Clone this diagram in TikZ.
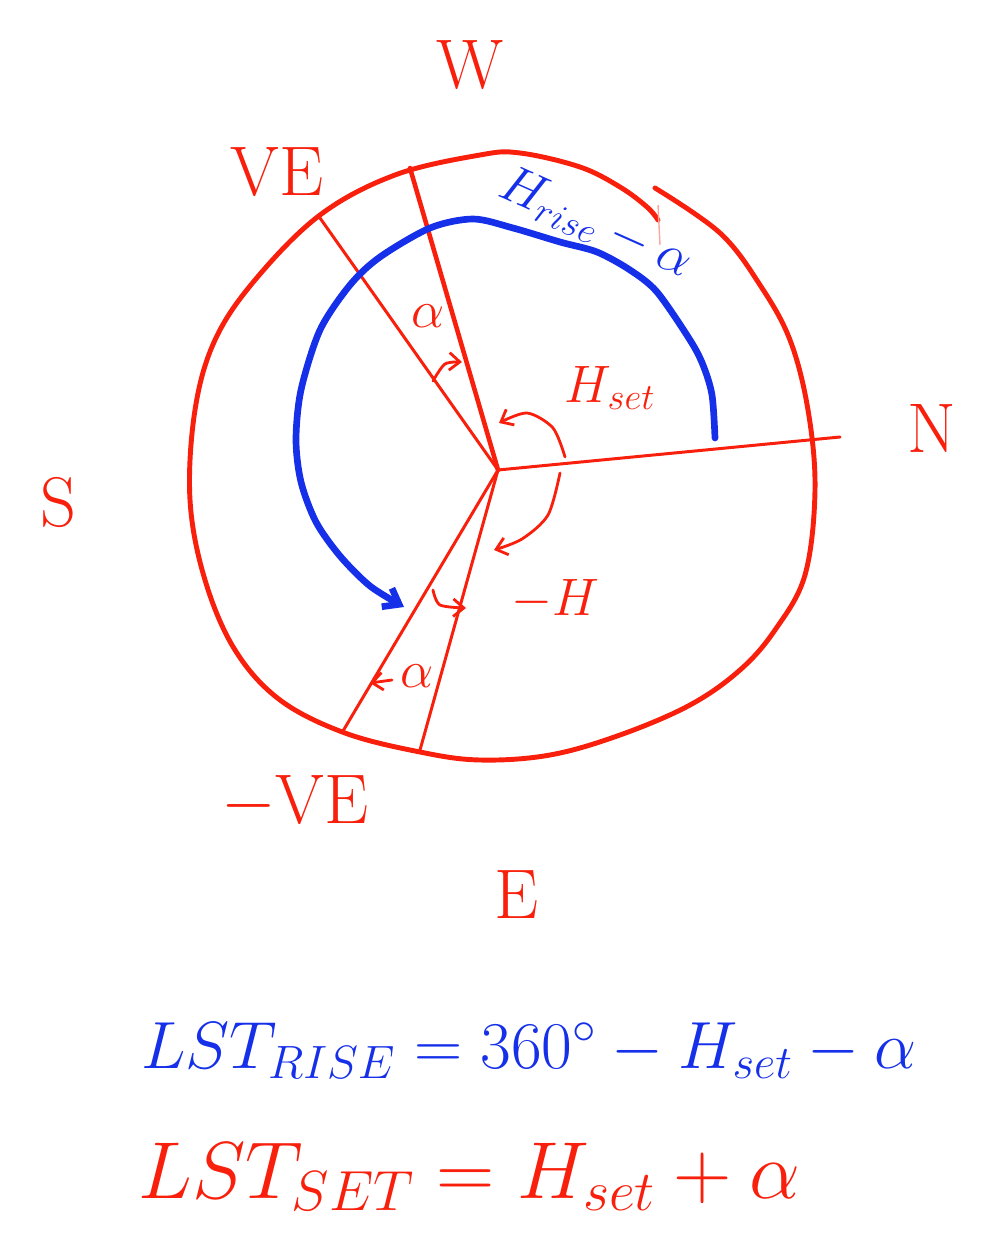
\documentclass[tikz,border=0pt]{standalone}
\usepackage{fix-cm}
\usetikzlibrary{
  arrows.meta,
  positioning,
}
\definecolor{inkred}{HTML}{F8200C}
\definecolor{inkblue}{HTML}{1530E8}

\begin{document}
\begin{tikzpicture}[
    x=0.02cm, y=-0.02cm,
    rim/.style={inkred, line width=2.8pt, line cap=round, line join=round},
    spoke/.style={inkred, line width=1.7pt, line cap=round},
    meridian/.style={inkred, line width=2.6pt, line cap=round},
    bluepen/.style={inkblue, line width=3.8pt, line cap=round},
    anglearrow/.style={inkred, line width=1.6pt, line cap=round, -{Straight Barb[length=6pt, width=10pt]}},
    compass/.style={inkred, font=\fontsize{40}{44}\selectfont},
    lbl/.style={font=\fontsize{30}{34}\selectfont},
    eqn/.style={font=\fontsize{38}{46}\selectfont, anchor=base west},
  ]
  \useasboundingbox (0,0) rectangle (987,1243);

  % Compass directions
  \node[compass] (lblW)   at (470, 65)  {W};
  \node[compass] (lblVE)  at (277,172)  {VE};
  \node[compass] (lblS)   at (58, 502)  {S};
  \node[compass] (lblN)   at (932,428)  {N};
  \node[compass] (lblmVE) at (295,802)  {$-$VE};
  \node[compass] (lblE)   at (517,895)  {E};

  % Outer rim
  \draw[rim] plot[smooth, tension=0.6] coordinates {
    (655,188) (720,233) (760,285) (790,340) (808,410) (815,490)
    (805,575) (775,630) (740,670) (690,705) (620,735) (550,755) (480,760)
    (420,752) (345,733) (280,700) (235,650) (205,580) (190,500) (195,410)
    (215,340) (255,280) (320,215) (395,175) (480,155) (520,153)
    (580,167) (620,187) (647,207) (658,220)};
  \draw[inkred!40, line width=0.8pt] (658,205) -- (660,245);

  % Spokes from the centre
  \coordinate (c)   at (498,470);
  \coordinate (ve)  at (320,218);
  \coordinate (up)  at (410,168);
  \coordinate (n)   at (840,437);
  \coordinate (mve) at (343,731);
  \coordinate (dn)  at (420,750);
  \draw[spoke]    (c) -- (ve);
  \draw[meridian] (c) -- (up);
  \draw[spoke]    (c) -- (n);
  \draw[spoke]    (c) -- (mve);
  \draw[spoke]    (c) -- (dn);

  % Rising path
  \draw[bluepen, -{Straight Barb[length=8pt, width=12pt]}] plot[smooth] coordinates {
    (715,438) (712,395) (703,365) (690,340) (657,292) (630,270) (597,252)
    (560,242) (513,228) (473,219) (430,228) (380,257) (350,285) (320,330)
    (301,390) (296,440) (301,482) (316,522) (340,556) (370,586) (404,607)};
  \node[inkblue, lbl, rotate=-24] (lblrise) at (596,224) {$H_{rise}-\alpha$};

  % Angle arrows
  \draw[anglearrow] plot[smooth] coordinates {(433,381) (445,364) (462,362)};
  \node[inkred, lbl] (alphaup) at (428,316) {$\alpha$};

  \draw[anglearrow] plot[smooth] coordinates {(565,457) (553,428) (527,413) (499,423)};
  \node[inkred, lbl] (lblset) at (610,388) {$H_{set}$};

  \draw[anglearrow] plot[smooth] coordinates {(560,473) (548,515) (522,539) (494,550)};
  \node[inkred, lbl] (lblmH) at (555,600) {$-H$};

  \draw[anglearrow] plot[smooth] coordinates {(433,590) (440,605) (466,608)};
  \draw[anglearrow] (392,680) -- (370,683);
  \node[inkred, lbl] (alphadn) at (417,676) {$\alpha$};

  % Local sidereal times
  \node[inkblue, eqn] (eqrise) at (135,1068) {$LST_{RISE} = 360^\circ - H_{set} - \alpha$};
  \node[inkred, eqn, font=\fontsize{46}{54}\selectfont] (eqset) at (132,1198) {$LST_{SET} = H_{set} + \alpha$};
\end{tikzpicture}
\end{document}
